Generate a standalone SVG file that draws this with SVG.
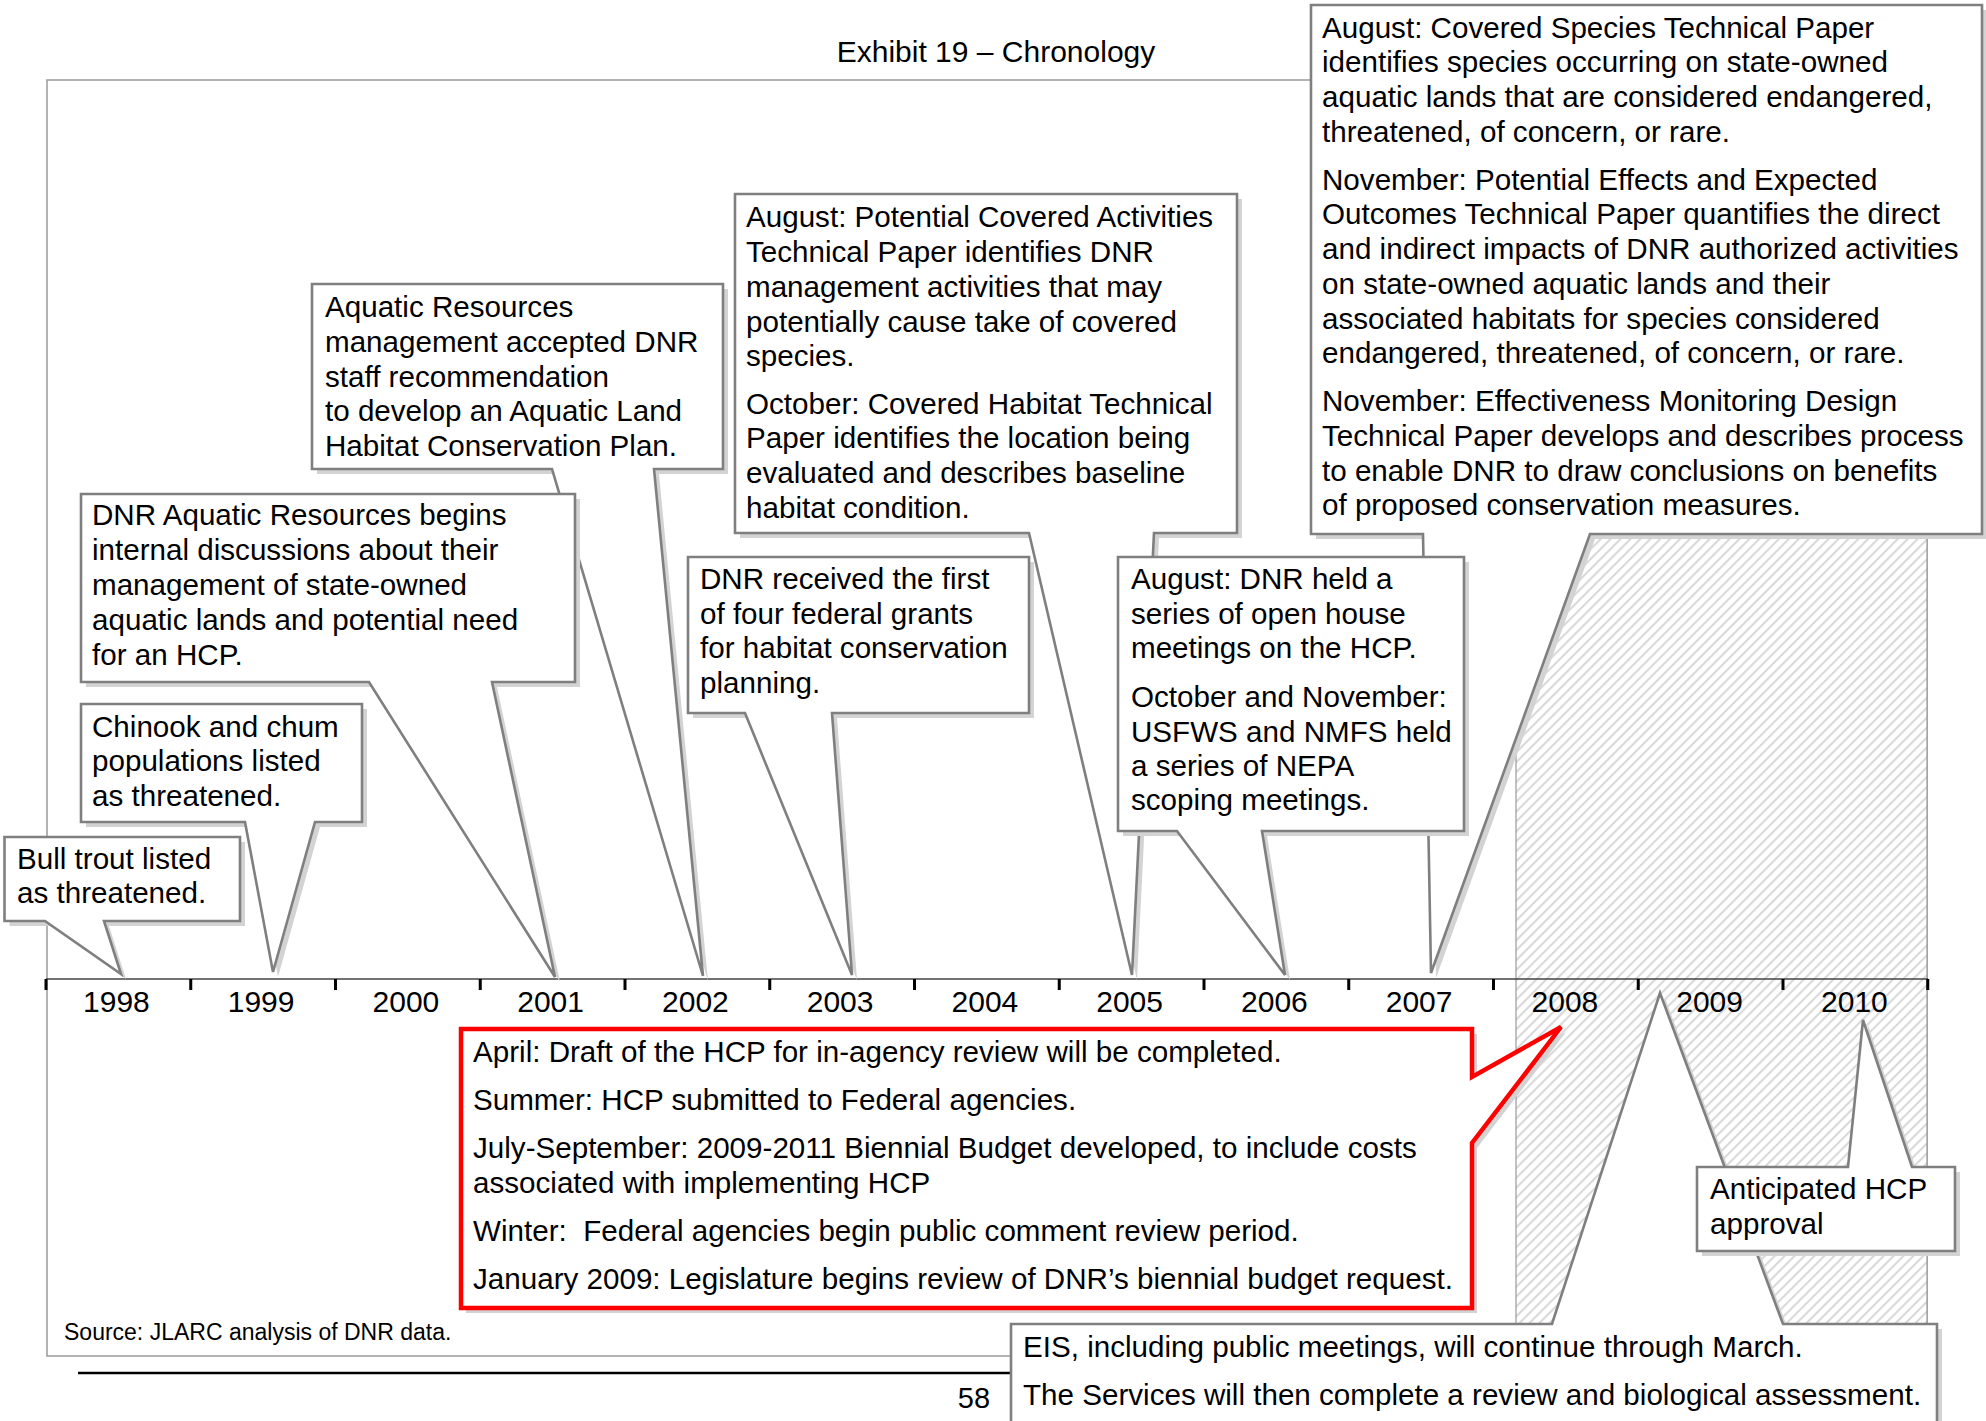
<svg xmlns="http://www.w3.org/2000/svg" width="1986" height="1421" viewBox="0 0 1986 1421">
<style>
text{font-family:"Liberation Sans",Arial,sans-serif;fill:#000}
.t{font-size:29.6px}
.yr{font-size:30px;text-anchor:middle}
.box{fill:#fff;stroke:#7f7f7f;stroke-width:2.6;stroke-linejoin:miter}
.red{fill:#fff;stroke:#ff0000;stroke-width:4.5;stroke-linejoin:miter}
.sh{fill:#d3d3d3;stroke:none}
.tick{stroke:#000;stroke-width:3}
</style>
<defs>
<pattern id="hatch" patternUnits="userSpaceOnUse" width="7" height="7" patternTransform="rotate(45)">
<rect width="7" height="7" fill="#fff"/>
<line x1="1" y1="0" x2="1" y2="7" stroke="#d9d9d9" stroke-width="2.2"/>
</pattern>
</defs>
<rect width="1986" height="1421" fill="#fff"/>
<text x="996" y="62" style="font-size:30px;text-anchor:middle">Exhibit 19 – Chronology</text>
<g id="frame">
<rect x="47" y="80" width="1880" height="1276" fill="none" stroke="#a0a0a0" stroke-width="1.6"/>
<rect x="1516" y="80" width="411" height="1276" fill="url(#hatch)" stroke="#9a9a9a" stroke-width="1.2"/>
<text x="64" y="1340" style="font-size:23px">Source: JLARC analysis of DNR data.</text>
<line x1="78" y1="1373" x2="1015" y2="1373" stroke="#000" stroke-width="2.5"/>
<text x="974" y="1408" style="font-size:29px;text-anchor:middle">58</text>
</g>
<g id="axis">
<line x1="46" y1="979" x2="1928" y2="979" stroke="#444" stroke-width="1.6"/>
<path class="tick" d="M46,979V990M190.75,979V990M335.5,979V990M480.25,979V990M625,979V990M769.75,979V990M914.5,979V990M1059.25,979V990M1204,979V990M1348.75,979V990M1493.5,979V990M1638.25,979V990M1783,979V990M1927.75,979V990"/>
<text class="yr" x="116.4" y="1012">1998</text>
<text class="yr" x="261.1" y="1012">1999</text>
<text class="yr" x="405.9" y="1012">2000</text>
<text class="yr" x="550.6" y="1012">2001</text>
<text class="yr" x="695.4" y="1012">2002</text>
<text class="yr" x="840.1" y="1012">2003</text>
<text class="yr" x="984.9" y="1012">2004</text>
<text class="yr" x="1129.6" y="1012">2005</text>
<text class="yr" x="1274.4" y="1012">2006</text>
<text class="yr" x="1419.1" y="1012">2007</text>
<text class="yr" x="1564.9" y="1012">2008</text>
<text class="yr" x="1709.6" y="1012">2009</text>
<text class="yr" x="1854.4" y="1012">2010</text>
</g>
<g id="connectors"></g>
<g id="n2000">
<path class="sh" transform="translate(5,5)" d="M312,284H723V469H654L703,976L552,469H312Z"/>
<path class="box" d="M312,284H723V469H654L703,976L552,469H312Z"/>
<text class="t"><tspan x="325" y="317">Aquatic Resources</tspan><tspan x="325" y="352">management accepted DNR</tspan><tspan x="325" y="387">staff recommendation</tspan><tspan x="325" y="421">to develop an Aquatic Land</tspan><tspan x="325" y="456">Habitat Conservation Plan.</tspan></text>
</g>
<g id="n1999b">
<path class="sh" transform="translate(5,5)" d="M81,494H575V682H492L555,977L369,682H81Z"/>
<path class="box" d="M81,494H575V682H492L555,977L369,682H81Z"/>
<text class="t"><tspan x="92" y="525">DNR Aquatic Resources begins</tspan><tspan x="92" y="560">internal discussions about their</tspan><tspan x="92" y="595">management of state-owned</tspan><tspan x="92" y="630">aquatic lands and potential need</tspan><tspan x="92" y="665">for an HCP.</tspan></text>
</g>
<g id="n1999">
<path class="sh" transform="translate(5,5)" d="M81,704H362V822H315L273,972L245,822H81Z"/>
<path class="box" d="M81,704H362V822H315L273,972L245,822H81Z"/>
<text class="t"><tspan x="92" y="737">Chinook and chum</tspan><tspan x="92" y="771">populations listed</tspan><tspan x="92" y="806">as threatened.</tspan></text>
</g>
<g id="n1998">
<path class="sh" transform="translate(5,5)" d="M4.5,837H240V921H104L121,974L45,921H4.5Z"/>
<path class="box" d="M4.5,837H240V921H104L121,974L45,921H4.5Z"/>
<text class="t"><tspan x="17" y="869">Bull trout listed</tspan><tspan x="17" y="903">as threatened.</tspan></text>
</g>
<g id="n2005a">
<path class="sh" transform="translate(5,5)" d="M735,194H1237V533H1154L1132,975L1029,533H735Z"/>
<path class="box" d="M735,194H1237V533H1154L1132,975L1029,533H735Z"/>
<text class="t"><tspan x="746" y="227">August: Potential Covered Activities</tspan><tspan x="746" y="262">Technical Paper identifies DNR</tspan><tspan x="746" y="297">management activities that may</tspan><tspan x="746" y="332">potentially cause take of covered</tspan><tspan x="746" y="366">species.</tspan><tspan x="746" y="414">October: Covered Habitat Technical</tspan><tspan x="746" y="448">Paper identifies the location being</tspan><tspan x="746" y="483">evaluated and describes baseline</tspan><tspan x="746" y="518">habitat condition.</tspan></text>
</g>
<g id="n2003">
<path class="sh" transform="translate(5,5)" d="M688,557H1029V713H832L852,975L745,713H688Z"/>
<path class="box" d="M688,557H1029V713H832L852,975L745,713H688Z"/>
<text class="t"><tspan x="700" y="589">DNR received the first</tspan><tspan x="700" y="624">of four federal grants</tspan><tspan x="700" y="658">for habitat conservation</tspan><tspan x="700" y="693">planning.</tspan></text>
</g>
<g id="n2007">
<path class="sh" transform="translate(5,5)" d="M1311,5H1982V534H1590L1431,973L1423,534H1311Z"/>
<path class="box" d="M1311,5H1982V534H1590L1431,973L1423,534H1311Z"/>
<text class="t"><tspan x="1322" y="38">August: Covered Species Technical Paper</tspan><tspan x="1322" y="72">identifies species occurring on state-owned</tspan><tspan x="1322" y="107">aquatic lands that are considered endangered,</tspan><tspan x="1322" y="142">threatened, of concern, or rare.</tspan><tspan x="1322" y="190">November: Potential Effects and Expected</tspan><tspan x="1322" y="224">Outcomes Technical Paper quantifies the direct</tspan><tspan x="1322" y="259">and indirect impacts of DNR authorized activities</tspan><tspan x="1322" y="294">on state-owned aquatic lands and their</tspan><tspan x="1322" y="329">associated habitats for species considered</tspan><tspan x="1322" y="363">endangered, threatened, of concern, or rare.</tspan><tspan x="1322" y="411">November: Effectiveness Monitoring Design</tspan><tspan x="1322" y="446">Technical Paper develops and describes process</tspan><tspan x="1322" y="481">to enable DNR to draw conclusions on benefits</tspan><tspan x="1322" y="515">of proposed conservation measures.</tspan></text>
</g>
<g id="n2006">
<path class="sh" transform="translate(5,5)" d="M1118,557H1464V831H1262L1285,975L1177,831H1118Z"/>
<path class="box" d="M1118,557H1464V831H1262L1285,975L1177,831H1118Z"/>
<text class="t"><tspan x="1131" y="589">August: DNR held a</tspan><tspan x="1131" y="624">series of open house</tspan><tspan x="1131" y="658">meetings on the HCP.</tspan><tspan x="1131" y="707">October and November:</tspan><tspan x="1131" y="742">USFWS and NMFS held</tspan><tspan x="1131" y="776">a series of NEPA</tspan><tspan x="1131" y="810">scoping meetings.</tspan></text>
</g>
<g id="n2008">
<path class="sh" transform="translate(5,5)" d="M461,1029H1472V1077L1561,1027L1472,1143V1308H461Z"/>
<path class="red" d="M461,1029H1472V1077L1561,1027L1472,1143V1308H461Z"/>
<text class="t"><tspan x="473" y="1062">April: Draft of the HCP for in-agency review will be completed.</tspan><tspan x="473" y="1110">Summer: HCP submitted to Federal agencies.</tspan><tspan x="473" y="1158">July-September: 2009-2011 Biennial Budget developed, to include costs</tspan><tspan x="473" y="1193">associated with implementing HCP</tspan><tspan x="473" y="1241">Winter:&#160; Federal agencies begin public comment review period.</tspan><tspan x="473" y="1289">January 2009: Legislature begins review of DNR’s biennial budget request.</tspan></text>
</g>
<g id="n2009">
<path class="sh" transform="translate(5,5)" d="M1011,1440V1324H1552L1660,993L1783,1324H1937V1440Z"/>
<path class="box" d="M1011,1440V1324H1552L1660,993L1783,1324H1937V1440Z"/>
<text class="t"><tspan x="1023" y="1357">EIS, including public meetings, will continue through March.</tspan><tspan x="1023" y="1405">The Services will then complete a review and biological assessment.</tspan></text>
</g>
<g id="n2010">
<path class="sh" transform="translate(5,5)" d="M1697,1167H1848L1863,1020L1912,1167H1955V1251H1697Z"/>
<path class="box" d="M1697,1167H1848L1863,1020L1912,1167H1955V1251H1697Z"/>
<text class="t"><tspan x="1710" y="1199">Anticipated HCP</tspan><tspan x="1710" y="1234">approval</tspan></text>
</g>
</svg>
